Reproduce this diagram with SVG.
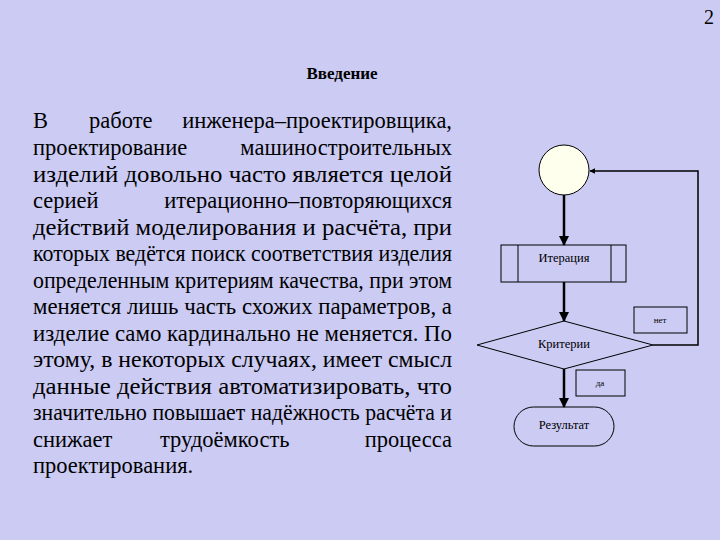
<svg xmlns="http://www.w3.org/2000/svg" width="720" height="540" viewBox="0 0 720 540">
<style>
.b text{font-family:"Liberation Serif","Times New Roman","DejaVu Serif",serif;font-size:22.5px;fill:#000}
.e{text-anchor:end}
.s{font-family:"Liberation Serif","Times New Roman",serif;font-size:12.5px;fill:#000}
.t{font-family:"Liberation Serif","Times New Roman",serif;font-size:9px;fill:#000}
.n{fill:none;stroke:#000;stroke-width:1}
.c{fill:none;stroke:#000;stroke-width:2.5}
</style>
<defs><marker id="a" viewBox="0 0 10 10" refX="9" refY="5" markerWidth="4" markerHeight="4" orient="auto"><path d="M0 0L10 5L0 10z" fill="#000"/></marker></defs>
<rect width="720" height="540" fill="#cbcbf4"/>
<text x="714" y="24" text-anchor="end" style="font-family:'Liberation Serif','Times New Roman',serif;font-size:20px">2</text>
<text x="342" y="79" text-anchor="middle" style="font-family:'Liberation Serif','Times New Roman',serif;font-size:17px;font-weight:bold">Введение</text>
<g class="b">
<text x="33" y="128">В</text><text x="89" y="128">работе</text><text x="452" y="128" class="e">инженера–проектировщика,</text>
<text x="33" y="155">проектирование</text><text x="452" y="155" class="e">машиностроительных</text>
<text x="33" y="182" textLength="419" lengthAdjust="spacingAndGlyphs">изделий  довольно  часто  является  целой</text>
<text x="33" y="208">серией</text><text x="452" y="208" class="e">итерационно–повторяющихся</text>
<text x="33" y="235" textLength="419" lengthAdjust="spacingAndGlyphs">действий моделирования и расчёта, при</text>
<text x="33" y="261" textLength="419" lengthAdjust="spacingAndGlyphs">которых ведётся поиск соответствия изделия</text>
<text x="33" y="288" textLength="419" lengthAdjust="spacingAndGlyphs">определенным критериям качества, при этом</text>
<text x="33" y="314" textLength="419" lengthAdjust="spacingAndGlyphs">меняется лишь часть схожих параметров, а</text>
<text x="33" y="341" textLength="419" lengthAdjust="spacingAndGlyphs">изделие само кардинально не меняется. По</text>
<text x="33" y="367" textLength="419" lengthAdjust="spacingAndGlyphs">этому, в некоторых случаях, имеет смысл</text>
<text x="33" y="394" textLength="419" lengthAdjust="spacingAndGlyphs">данные действия автоматизировать, что</text>
<text x="33" y="420" textLength="419" lengthAdjust="spacingAndGlyphs">значительно повышает надёжность расчёта и</text>
<text x="33" y="447">снижает</text><text x="160" y="447">трудоёмкость</text><text x="452" y="447" class="e">процесса</text>
<text x="33" y="473">проектирования.</text>
</g>
<g id="connectors">
<line x1="564" y1="195" x2="564" y2="245" class="c" marker-end="url(#a)"/>
<line x1="564" y1="282" x2="564" y2="321" class="c" marker-end="url(#a)"/>
<line x1="564" y1="369" x2="564" y2="407" class="c" marker-end="url(#a)"/>
<polyline points="653,345 698,345 698,171 590,171" fill="none" stroke="#000" stroke-width="1.5" marker-end="url(#a)"/>
</g>
<g id="start"><circle cx="564" cy="170" r="25" fill="#ffffee" stroke="#000"/></g>
<g id="iter"><rect x="501" y="245" width="125" height="37" class="n"/><line x1="518" y1="245" x2="518" y2="282" class="n"/><line x1="611" y1="245" x2="611" y2="282" class="n"/><text x="564" y="262" text-anchor="middle" class="s">Итерация</text></g>
<g id="crit"><polygon points="564,321 653,345 564,369 477,345" class="n"/><text x="564" y="348" text-anchor="middle" class="s">Критерии</text></g>
<g id="no"><rect x="634" y="307" width="53" height="26" class="n"/><text x="660" y="323" text-anchor="middle" class="t">нет</text></g>
<g id="yes"><rect x="576" y="370" width="49" height="26" class="n"/><text x="600" y="386" text-anchor="middle" class="t">да</text></g>
<g id="result"><rect x="514" y="407" width="100" height="39" rx="19.5" class="n"/><text x="564" y="429" text-anchor="middle" class="s">Результат</text></g>
</svg>
